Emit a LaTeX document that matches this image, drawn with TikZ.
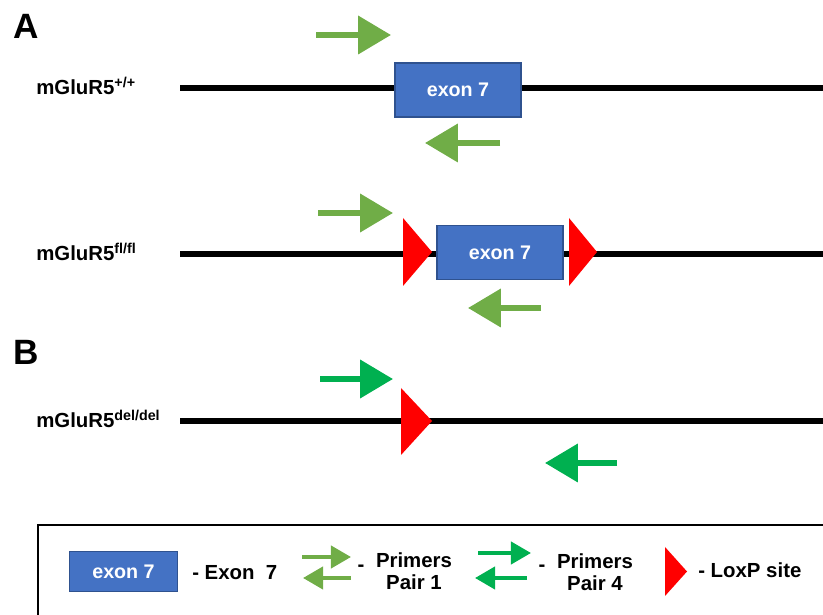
\documentclass[tikz,border=0pt]{standalone}
\usepackage{fontspec}
\setmainfont{Liberation Sans}
\usetikzlibrary{arrows.meta, positioning}
\definecolor{azulExon}{HTML}{4472C4}
\definecolor{bordeExon}{HTML}{2F528F}
\definecolor{verdePar1}{HTML}{70AD47}
\definecolor{verdePar4}{HTML}{00B050}
\definecolor{rojoLox}{HTML}{FF0000}
\tikzset{
  letraPanel/.style={anchor=base west, inner sep=0pt, font=\fontsize{25}{25}\selectfont\bfseries},
  etiquetaGen/.style={anchor=base west, inner sep=0pt, font=\fontsize{14.5}{15}\selectfont\bfseries},
  textoLeyenda/.style={inner sep=0pt, font=\fontsize{14.5}{15}\selectfont\bfseries, align=center},
  cajaExon/.style={draw=bordeExon, fill=azulExon, line width=0.8pt,
    text=white, font=\fontsize{14}{14}\selectfont\bfseries,
    minimum width=3.15cm, minimum height=1.35cm, inner sep=0pt},
  lineaGen/.style={line width=0.14cm, black},
  cebador/.style={line width=0.15cm, -{Triangle[length=0.82cm, width=0.93cm]}},
  cebadorLeyenda/.style={line width=0.1cm, -{Triangle[length=0.5cm, width=0.55cm]}},
  par1/.style={verdePar1},
  par4/.style={verdePar4},
  sitioLox/.style={fill=rojoLox},
}
\begin{document}
\begin{tikzpicture}[x=0.025cm, y=-0.025cm]
  \useasboundingbox (0,0) rectangle (823,615);

  % panel A
  \node[letraPanel] (letraA) at (13,39) {A};

  % mGluR5 +/+
  \node[etiquetaGen] (etqSilvestre) at (36,95) {mGluR5\textsuperscript{+/+}};
  \coordinate (iniSilvestre) at (180,88);
  \coordinate (finSilvestre) at (823,88);
  \draw[lineaGen] (iniSilvestre) -- (finSilvestre);
  \node[cajaExon] (exonSilvestre) at (458,90) {exon 7};
  \draw[cebador, par1] (316,35) -- (391,35);
  \draw[cebador, par1] (500,143) -- (425,143);

  % mGluR5 fl/fl
  \node[etiquetaGen] (etqFlox) at (36,261) {mGluR5\textsuperscript{fl/fl}};
  \coordinate (iniFlox) at (180,254);
  \coordinate (finFlox) at (823,254);
  \draw[lineaGen] (iniFlox) -- (finFlox);
  \node[cajaExon] (exonFlox) at (500,252.5) {exon 7};
  \fill[sitioLox] (403,218) -- (432,252) -- (403,286) -- cycle;
  \fill[sitioLox] (569,218) -- (597,252) -- (569,286) -- cycle;
  \draw[cebador, par1] (318,213) -- (393,213);
  \draw[cebador, par1] (541,308) -- (468,308);

  % panel B
  \node[letraPanel] (letraB) at (13,365) {B};

  % mGluR5 del/del
  \node[etiquetaGen] (etqDel) at (36,428) {mGluR5\textsuperscript{del/del}};
  \coordinate (iniDel) at (180,421);
  \coordinate (finDel) at (823,421);
  \draw[lineaGen] (iniDel) -- (finDel);
  \fill[sitioLox] (401,388) -- (432,421) -- (401,455) -- cycle;
  \draw[cebador, par4] (320,379) -- (393,379);
  \draw[cebador, par4] (617,463) -- (545,463);

  % leyenda
  \draw[line width=0.05cm] (38,620) -- (38,525) -- (830,525);
  \node[cajaExon, minimum width=2.72cm, minimum height=1.02cm] (leyExon) at (123.5,571.5) {exon 7};
  \node[textoLeyenda, anchor=base west] (txtExon) at (192,580) {- Exon\ \ 7};
  \draw[cebadorLeyenda, par1] (302,557) -- (351,557);
  \draw[cebadorLeyenda, par1] (351,578) -- (303,578);
  \node[textoLeyenda] (guion1) at (361,568) {-};
  \node[textoLeyenda, font=\fontsize{14.5}{15.5}\selectfont\bfseries] (txtPar1) at (414,571) {Primers\\Pair 1};
  \draw[cebadorLeyenda, par4] (478,553) -- (531,553);
  \draw[cebadorLeyenda, par4] (527,578) -- (475,578);
  \node[textoLeyenda] (guion4) at (542,568) {-};
  \node[textoLeyenda, font=\fontsize{14.5}{15.5}\selectfont\bfseries] (txtPar4) at (595,572) {Primers\\Pair 4};
  \fill[sitioLox] (665,547) -- (687,571.5) -- (665,596) -- cycle;
  \node[textoLeyenda, anchor=base west] (txtLox) at (698,578) {- LoxP site};
\end{tikzpicture}
\end{document}
